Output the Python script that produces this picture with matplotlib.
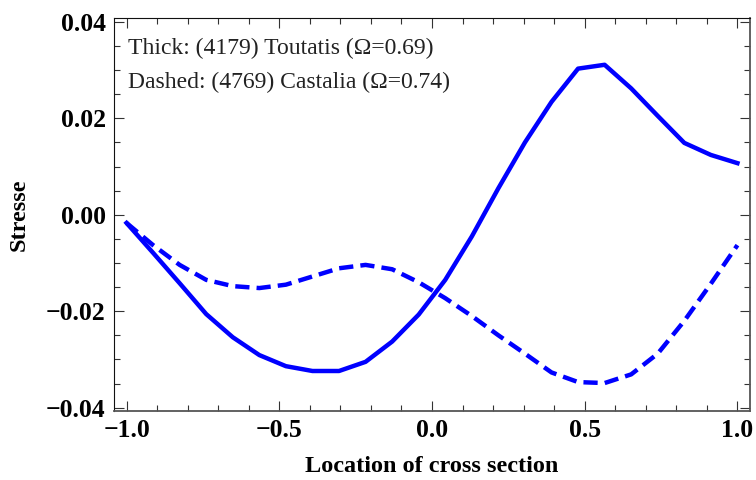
import numpy as np
import matplotlib
matplotlib.use("Agg")
import matplotlib.pyplot as plt
from matplotlib.ticker import MultipleLocator, FuncFormatter

# 24 cross-section samples from -1 to 1
x = np.linspace(-1.0, 1.0, 24)

# Toutatis (thick)
toutatis = [-0.0017, -0.0079, -0.0142, -0.0206, -0.0254, -0.0291, -0.0314, -0.0324,
            -0.0324, -0.0305, -0.0263, -0.0207, -0.0135, -0.0045, 0.0055, 0.0150,
            0.0234, 0.0303, 0.0311, 0.0262, 0.0205, 0.0149, 0.0124, 0.0107]

# Castalia (dashed)
castalia = [-0.0017, -0.0063, -0.0104, -0.0135, -0.0148, -0.0152, -0.0145, -0.0128,
            -0.0111, -0.0104, -0.0113, -0.0140, -0.0173, -0.0210, -0.0250, -0.0288,
            -0.0327, -0.0347, -0.0349, -0.0331, -0.0288, -0.0220, -0.0143, -0.0063]

serif = ["Liberation Serif", "DejaVu Serif"]
plt.rcParams["font.family"] = serif


def fmt(decimals):
    def f(v, pos):
        s = f"{abs(v):.{decimals}f}"
        return ("\u2212" + s) if v < -1e-12 else s
    return FuncFormatter(f)


fig = plt.figure(figsize=(7.56, 4.8), dpi=100)
ax = fig.add_axes([0.1508, 0.1437, 0.8412, 0.8188])

ax.plot(x, toutatis, color="#0000ff", lw=3.2)
ax.plot(x, castalia, color="#0000ff", lw=3.2, dashes=(3.2, 1.6))

ax.set_xlim(-1.041, 1.041)
ax.set_ylim(-0.0407, 0.0408)

ax.xaxis.set_major_locator(MultipleLocator(0.5))
ax.xaxis.set_minor_locator(MultipleLocator(0.1))
ax.yaxis.set_major_locator(MultipleLocator(0.02))
ax.yaxis.set_minor_locator(MultipleLocator(0.005))
ax.xaxis.set_major_formatter(fmt(1))
ax.yaxis.set_major_formatter(fmt(2))

ax.tick_params(which="both", direction="in", top=True, right=True, color="#333333", width=0.8)
ax.tick_params(which="major", length=7, labelsize=18.5, pad=6)
ax.tick_params(which="minor", length=4)
for lab in ax.get_xticklabels() + ax.get_yticklabels():
    lab.set_fontweight("bold")

for s in ["left", "top"]:
    ax.spines[s].set_color("#111111")
for s in ["right", "bottom"]:
    ax.spines[s].set_color("#555555")
    ax.spines[s].set_linewidth(1.3)

ax.set_xlabel("Location of cross section", fontsize=17.5, fontweight="bold", labelpad=10)
ax.set_ylabel("Stresse", fontsize=17.5, fontweight="bold", labelpad=12)

ax.text(0.022, 0.908, "Thick: (4179) Toutatis (\u03a9=0.69)", transform=ax.transAxes,
        fontsize=17, color="#222222", va="baseline")
ax.text(0.022, 0.822, "Dashed: (4769) Castalia (\u03a9=0.74)", transform=ax.transAxes,
        fontsize=17, color="#222222", va="baseline")

fig.savefig("out.png", dpi=100)
